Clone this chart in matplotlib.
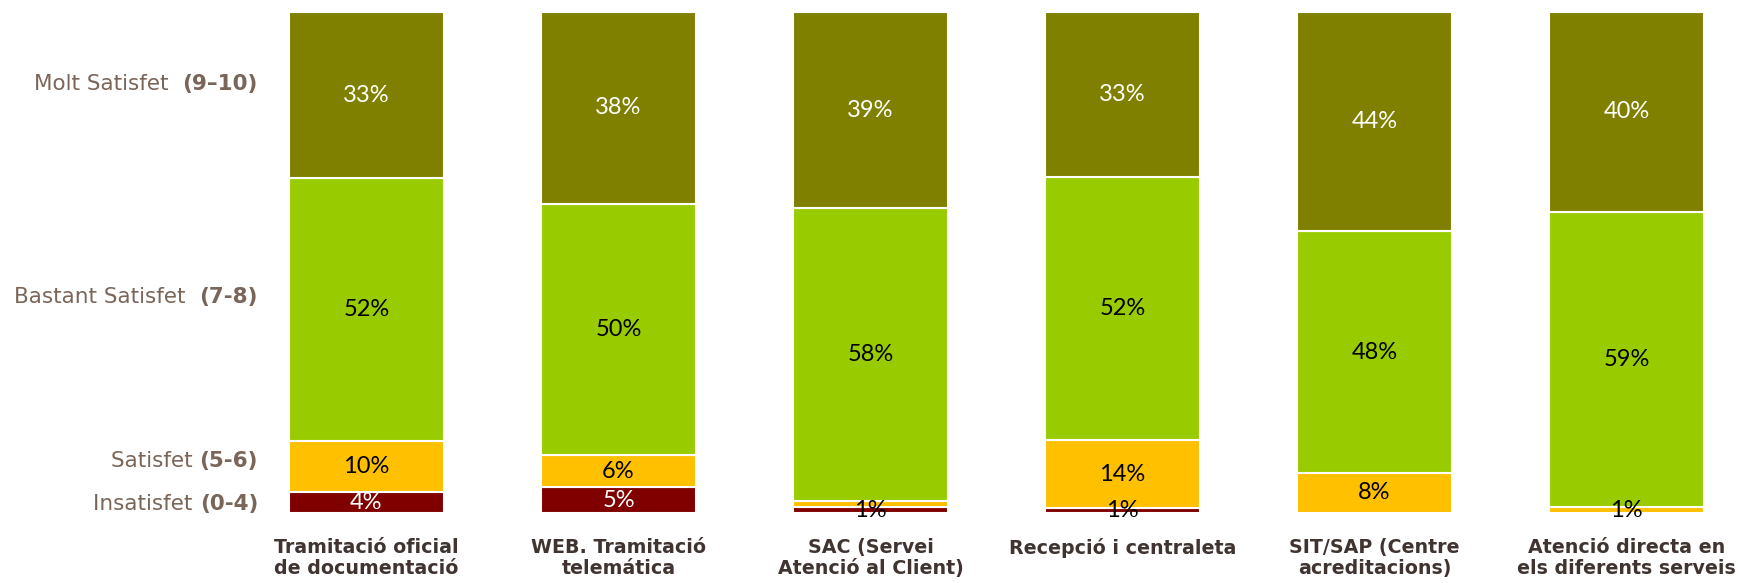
import numpy as np
import matplotlib.pyplot as plt

# Survey categories (bottom labels)
categories = ['Tramitació oficial\nde documentació', 'WEB. Tramitació\ntelemática',
              'SAC (Servei\nAtenció al Client)', 'Recepció i centraleta',
              'SIT/SAP (Centre\nacreditacions)', 'Atenció directa en\nels diferents serveis']

# Shares (%), bottom to top
insatisfet = [4.2, 5.1, 1.1, 0.9, 0.0, 0.0]
satisfet = [10.2, 6.4, 1.3, 13.7, 8.0, 1.1]
bastant = [52.4, 50.2, 58.4, 52.4, 48.2, 59.0]
molt = [33.2, 38.3, 39.2, 33.0, 43.8, 39.9]

series = [insatisfet, satisfet, bastant, molt]
colors = ['#800000', '#FFC000', '#99CC00', '#808000']
text_colors = ['white', 'black', 'black', 'white']

# left-hand level labels: (normal part, bold part, y in data units)
level_normal = ['Insatisfet ', 'Satisfet ', 'Bastant Satisfet  ', 'Molt Satisfet  ']
level_bold = ['(0-4)', '(5-6)', '(7-8)', '(9–10)']
level_y = [1.8, 10.4, 43.1, 85.6]

plt.rcParams['font.family'] = ['Lato', 'DejaVu Sans']
side_font = ['DejaVu Sans']

W, H = 1738, 583
fig = plt.figure(figsize=(W / 100, H / 100), dpi=100)
ax = fig.add_axes([240 / W, 70 / H, (W - 240) / W, 501 / H])

x = np.arange(len(categories))
bottom = np.zeros(len(categories))
placed = [[] for _ in categories]
for vals, col, tcol in zip(series, colors, text_colors):
    vals = np.array(vals)
    ax.bar(x, vals, width=0.615, bottom=bottom, color=col, edgecolor='white', linewidth=1.5)
    for i, v in enumerate(vals):
        if v <= 0:
            continue
        yc = bottom[i] + v / 2
        if any(abs(yc - p) < 3 for p in placed[i]):
            continue
        placed[i].append(yc)
        c = tcol if v >= 2 else 'black'
        ax.text(x[i], yc, f'{v:.0f}%', ha='center', va='center', fontsize=17, color=c)
    bottom += vals

ax.set_xlim((240 - 366.5) / 252, (W - 366.5) / 252)
ax.set_ylim(0, 100)
ax.set_xticks(x)
ax.set_xticklabels(categories, fontsize=13.7, fontweight='bold', color='#3F3430',
                   linespacing=1.15, family=side_font)
ax.tick_params(axis='x', length=0, pad=18)
ax.set_yticks([])
for s in ax.spines.values():
    s.set_visible(False)

label_col = '#7A6559'
for nm, bd, yv in zip(level_normal, level_bold, level_y):
    yf = (70 + yv * 5.01) / H
    t = fig.text(258 / W, yf, bd, ha='right', va='center', fontsize=15.5,
                 fontweight='bold', color=label_col, family=side_font)
    ax.annotate(nm, xy=(0, 0.5), xycoords=t, ha='right', va='center',
                fontsize=15.5, color=label_col, family=side_font)

fig.savefig('out.png', dpi=100)
